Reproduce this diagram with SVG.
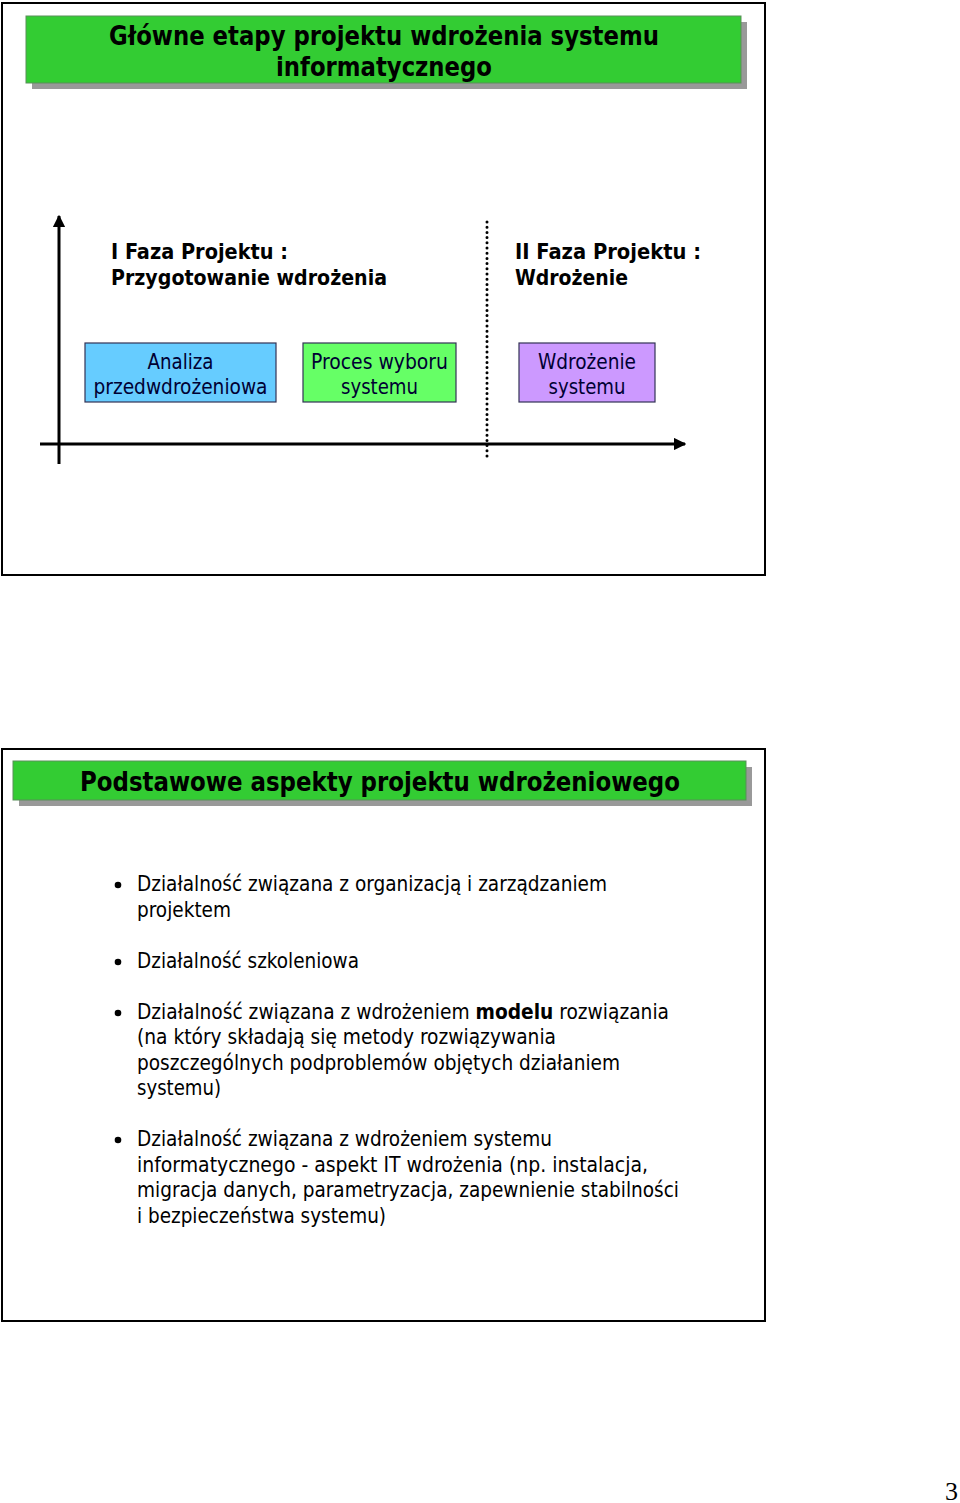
<svg xmlns="http://www.w3.org/2000/svg" width="960" height="1503" viewBox="0 0 960 1503">
<defs>
<style>
.frame{fill:#fff;stroke:#000;stroke-width:2}
.shadow{fill:#999}
.tbar{fill:#33CC33;stroke:#5a8f5a;stroke-width:1}
.ttl{font-family:"DejaVu Sans Condensed","DejaVu Sans",sans-serif;font-weight:bold;font-size:26px;fill:#000;text-anchor:middle}
.phase{font-family:"DejaVu Sans Condensed","DejaVu Sans",sans-serif;font-weight:bold;font-size:21px;fill:#000}
.box{stroke:#333355;stroke-width:1.2}
.btxt{font-family:"DejaVu Sans Condensed","DejaVu Sans",sans-serif;font-size:21px;fill:#000033;text-anchor:middle}
.body{font-family:"DejaVu Sans Condensed","DejaVu Sans",sans-serif;font-size:21px;fill:#000}
.axis{stroke:#000;stroke-width:3;fill:none}
</style>
<marker id="ah" viewBox="0 0 10 10" refX="9" refY="5" markerWidth="4.2" markerHeight="4.2" orient="auto" markerUnits="strokeWidth">
<path d="M0,0 L10,5 L0,10 z" fill="#000"/>
</marker>
</defs>
<rect width="960" height="1503" fill="#fff"/>

<g id="slide1">
<rect class="frame" x="2" y="3" width="763" height="572"/>
<g id="title1">
<rect class="shadow" x="32" y="22" width="715" height="67"/>
<rect class="tbar" x="26" y="16" width="715" height="67"/>
<text class="ttl" x="384" y="45" textLength="550" lengthAdjust="spacingAndGlyphs">Główne etapy projektu wdrożenia systemu</text>
<text class="ttl" x="384" y="76" textLength="216" lengthAdjust="spacingAndGlyphs">informatycznego</text>
</g>
<g id="connectors">
<line class="axis" x1="59" y1="464" x2="59" y2="216" marker-end="url(#ah)"/>
<line class="axis" x1="40" y1="444" x2="685" y2="444" marker-end="url(#ah)"/>
<line x1="487" y1="222" x2="487" y2="460" stroke="#000" stroke-width="3" stroke-linecap="round" stroke-dasharray="0 5.2"/>
</g>
<g id="phase1">
<text class="phase" x="111" y="259" textLength="177" lengthAdjust="spacingAndGlyphs">I Faza Projektu :</text>
<text class="phase" x="111" y="285" textLength="276" lengthAdjust="spacingAndGlyphs">Przygotowanie wdrożenia</text>
</g>
<g id="phase2">
<text class="phase" x="515" y="259" textLength="186" lengthAdjust="spacingAndGlyphs">II Faza Projektu :</text>
<text class="phase" x="515" y="285" textLength="113" lengthAdjust="spacingAndGlyphs">Wdrożenie</text>
</g>
<g id="node-analiza">
<rect class="box" x="85" y="343" width="191" height="59" fill="#66CCFF"/>
<text class="btxt" x="180.5" y="369" textLength="66" lengthAdjust="spacingAndGlyphs">Analiza</text>
<text class="btxt" x="180.5" y="394" textLength="174" lengthAdjust="spacingAndGlyphs">przedwdrożeniowa</text>
</g>
<g id="node-proces">
<rect class="box" x="303" y="343" width="153" height="59" fill="#66FF66"/>
<text class="btxt" x="379.5" y="369" textLength="137" lengthAdjust="spacingAndGlyphs">Proces wyboru</text>
<text class="btxt" x="379.5" y="394" textLength="77" lengthAdjust="spacingAndGlyphs">systemu</text>
</g>
<g id="node-wdrozenie">
<rect class="box" x="519" y="343" width="136" height="59" fill="#CC99FF"/>
<text class="btxt" x="587" y="369" textLength="98" lengthAdjust="spacingAndGlyphs">Wdrożenie</text>
<text class="btxt" x="587" y="394" textLength="77" lengthAdjust="spacingAndGlyphs">systemu</text>
</g>
</g>

<g id="slide2">
<rect class="frame" x="2" y="749" width="763" height="572"/>
<g id="title2">
<rect class="shadow" x="19" y="767" width="733" height="39"/>
<rect class="tbar" x="13" y="761" width="733" height="39"/>
<text class="ttl" x="380" y="791" textLength="600" lengthAdjust="spacingAndGlyphs">Podstawowe aspekty projektu wdrożeniowego</text>
</g>
<g id="bullets" class="body">
<circle cx="118" cy="885" r="3.3"/>
<text x="137" y="891" textLength="470" lengthAdjust="spacingAndGlyphs">Działalność związana z organizacją i zarządzaniem</text>
<text x="137" y="917" textLength="94" lengthAdjust="spacingAndGlyphs">projektem</text>
<circle cx="118" cy="962" r="3.3"/>
<text x="137" y="968" textLength="222" lengthAdjust="spacingAndGlyphs">Działalność szkoleniowa</text>
<circle cx="118" cy="1013" r="3.3"/>
<text x="137" y="1019" textLength="532" lengthAdjust="spacingAndGlyphs">Działalność związana z wdrożeniem <tspan font-weight="bold">modelu</tspan> rozwiązania</text>
<text x="137" y="1044" textLength="419" lengthAdjust="spacingAndGlyphs">(na który składają się metody rozwiązywania</text>
<text x="137" y="1070" textLength="483" lengthAdjust="spacingAndGlyphs">poszczególnych podproblemów objętych działaniem</text>
<text x="137" y="1095" textLength="84" lengthAdjust="spacingAndGlyphs">systemu)</text>
<circle cx="118" cy="1140" r="3.3"/>
<text x="137" y="1146" textLength="415" lengthAdjust="spacingAndGlyphs">Działalność związana z wdrożeniem systemu</text>
<text x="137" y="1172" textLength="511" lengthAdjust="spacingAndGlyphs">informatycznego - aspekt IT wdrożenia (np. instalacja,</text>
<text x="137" y="1197" textLength="542" lengthAdjust="spacingAndGlyphs">migracja danych, parametryzacja, zapewnienie stabilności</text>
<text x="137" y="1223" textLength="249" lengthAdjust="spacingAndGlyphs">i bezpieczeństwa systemu)</text>
</g>
</g>

<text x="958" y="1500" text-anchor="end" font-family="Liberation Serif, serif" font-size="26" fill="#000">3</text>
</svg>
